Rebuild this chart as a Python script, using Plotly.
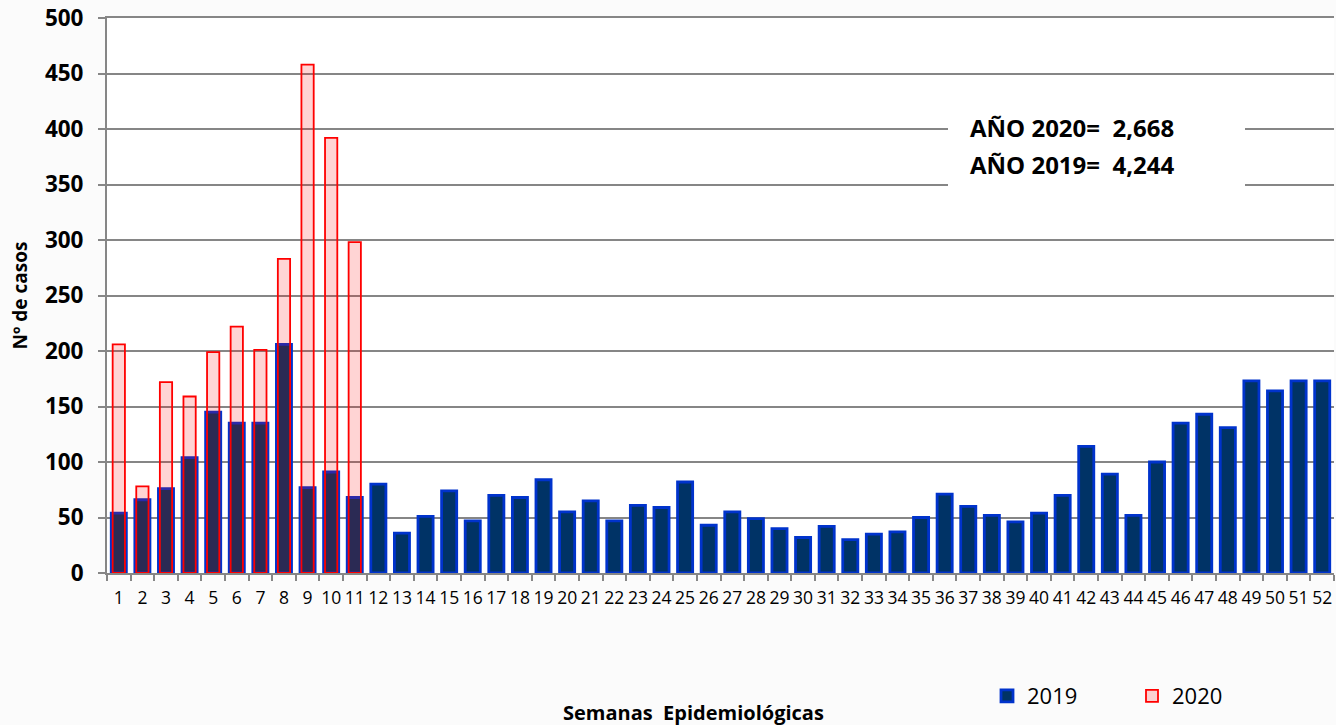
import plotly.graph_objects as go

weeks = [str(i) for i in range(1, 53)]
cases_2019 = [54, 66, 76, 104, 145, 135, 135, 206, 77, 91, 68,
              80, 36, 51, 74, 47, 70, 68, 84, 55, 65, 47, 61, 59, 82, 43, 55, 49, 40, 32, 42, 30,
              35, 37, 50, 71, 60, 52, 46, 54, 70, 114, 89, 52, 100, 135, 143, 131, 173, 164, 173, 173]
cases_2020 = [206, 78, 172, 159, 199, 222, 201, 283, 458, 392, 298]
weeks_2020 = weeks[:len(cases_2020)]

label_2020 = "AÑO 2020=\u00a0\u00a02,668"
label_2019 = "AÑO 2019=\u00a0\u00a04,244"
y_ticks = [0, 50, 100, 150, 200, 250, 300, 350, 400, 450, 500]

FONT = "Open Sans"
GRID = "#868686"

# the page body margin is removed below, so the figure sits at the window origin
OFF = 0
W, H = 1336, 725
# plot area in screen pixels: x 107..1334, y 18..573
L = 107 - OFF
T = 18 - OFF
R = W - (1334 - OFF)
B = H - (573 - OFF)
PW, PH = W - L - R, H - T - B


def px_x(x):
    return (x - OFF - L) / PW


def px_y(y):
    return (H - B - (y - OFF)) / PH


fig = go.Figure()
fig.add_trace(go.Bar(
    x=weeks, y=cases_2019, name="2019", width=0.64,
    marker=dict(color="#003366", line=dict(color="#0033CC", width=2.8)),
))
fig.add_trace(go.Bar(
    x=weeks_2020, y=cases_2020, name="2020", width=0.52,
    marker=dict(color="rgba(255,0,0,0.17)", line=dict(color="#FF0000", width=1.8)),
))

fig.update_layout(
    width=W, height=H,
    margin=dict(l=L, r=R, t=T, b=B, autoexpand=False),
    barmode="overlay",
    paper_bgcolor="#fbfbfb",
    plot_bgcolor="white",
    font=dict(family=FONT, color="black"),
    showlegend=True,
    legend=dict(orientation="h", x=px_x(987), xanchor="left", y=px_y(696), yanchor="middle",
                font=dict(size=22, family=FONT), entrywidth=100, entrywidthmode="pixels",
                bgcolor="rgba(0,0,0,0)"),
    xaxis=dict(type="category", categoryorder="array", categoryarray=weeks,
               tickson="boundaries", ticks="outside", ticklen=6, tickcolor=GRID, tickwidth=2,
               showline=True, linecolor=GRID, linewidth=2, mirror=True,
               showgrid=False, automargin=False,
               ticklabelstandoff=8, ticklabeloverflow="allow",
               tickfont=dict(size=17.5, family=FONT), tickangle=0),
    yaxis=dict(range=[0, 500], tickvals=y_ticks, showgrid=True, gridcolor=GRID, gridwidth=2,
               ticks="outside", ticklen=7, tickcolor=GRID, tickwidth=2,
               showline=True, linecolor=GRID, linewidth=2, zeroline=False, automargin=False,
               ticklabelstandoff=10, ticklabeloverflow="allow",
               tickfont=dict(size=22.5, family=FONT, weight="bold"),
               title=dict(text="<b>Nº de casos</b>", font=dict(size=19, family=FONT), standoff=12)),
)

fig.add_shape(type="rect", xref="paper", yref="paper", x0=px_x(948), x1=px_x(1245),
              y0=px_y(210), y1=px_y(100),
              fillcolor="white", line=dict(width=0), layer="above")
fig.add_annotation(text="<b>" + label_2020 + "</b>", xref="paper", yref="paper",
                   x=px_x(968), y=px_y(128), xanchor="left", yanchor="middle", showarrow=False,
                   font=dict(size=24, family=FONT))
fig.add_annotation(text="<b>" + label_2019 + "</b>", xref="paper", yref="paper",
                   x=px_x(968), y=px_y(165), xanchor="left", yanchor="middle", showarrow=False,
                   font=dict(size=24, family=FONT))
fig.add_annotation(text="<b>Semanas\u00a0\u00a0Epidemiológicas</b>", xref="paper", yref="paper",
                   x=px_x(693), y=px_y(712), xanchor="center", yanchor="middle",
                   showarrow=False, font=dict(size=20, family=FONT))

fig.write_html("out.html", config={"displayModeBar": False},
               post_script="document.body.style.margin='0';document.body.style.overflow='hidden';")
